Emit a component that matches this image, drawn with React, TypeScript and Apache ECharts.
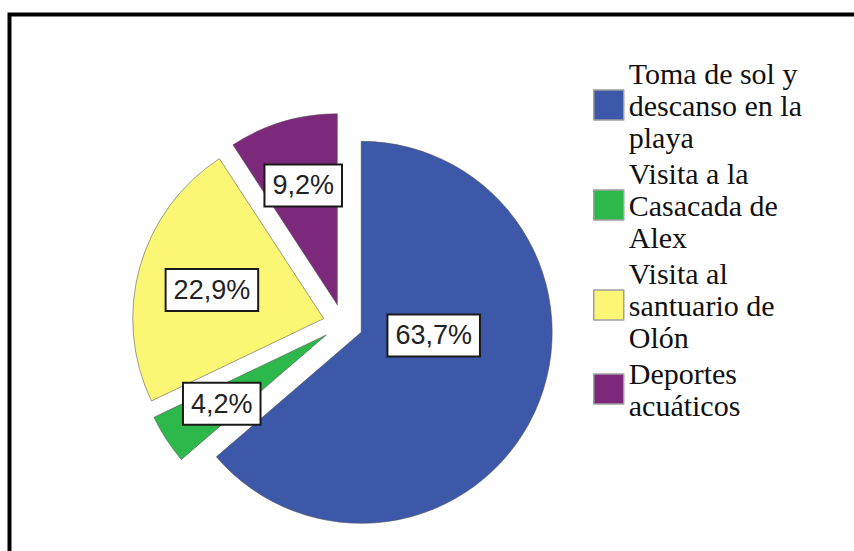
import React, { useEffect, useRef } from "react";
import * as echarts from "echarts";

const categories = [
  "Toma de sol y\ndescanso en la\nplaya",
  "Visita a la\nCasacada de\nAlex",
  "Visita al\nsantuario de\nOlón",
  "Deportes\nacuáticos",
];
const percentages = [63.7, 4.2, 22.9, 9.2];
const colors = ["#3e58a9", "#2db84b", "#fbf775", "#7c297c"];
// small nudges of each percentage label from the library's "inside" spot
const labelNudgeX = [-17, -22, -17, -6];
const labelNudgeY = [-38, 15, -2, -25];

export default function App() {
  const ref = useRef<HTMLDivElement>(null);
  useEffect(() => {
    if (!ref.current) return;
    const chart = echarts.init(ref.current, undefined, { renderer: "svg" });
    chart.setOption({
      animation: false,
      backgroundColor: "#ffffff",
      graphic: [
        {
          type: "polyline",
          shape: { points: [[9.5, 551], [9.5, 14.5], [854, 14.5]] },
          style: { stroke: "#000", lineWidth: 4, fill: null },
          silent: true,
        },
      ],
      legend: {
        orient: "vertical",
        left: 588,
        top: 52,
        itemWidth: 30,
        itemHeight: 30,
        itemGap: 4,
        icon: "rect",
        selectedMode: false,
        data: categories,
        itemStyle: { borderColor: "#a0a0a0", borderWidth: 1.5 },
        textStyle: {
          fontFamily: "Liberation Serif",
          fontSize: 30,
          lineHeight: 32,
          color: "#111",
        },
      },
      series: [
        {
          type: "pie",
          center: [343, 324],
          radius: 191,
          startAngle: 90,
          clockwise: true,
          selectedMode: "multiple",
          selectedOffset: 20,
          emphasis: { disabled: true },
          itemStyle: { borderColor: "rgba(80,80,80,0.55)", borderWidth: 1 },
          label: {
            show: true,
            position: "inside",
            formatter: (p: any) => p.value.toFixed(1).replace(".", ",") + "%",
            fontFamily: "Liberation Sans",
            fontSize: 27,
            lineHeight: 30,
            color: "#222",
            backgroundColor: "#ffffff",
            borderColor: "#1a1a1a",
            borderWidth: 2,
            padding: [5, 7, 5, 7],
          },
          labelLine: { show: false },
          labelLayout: (params: any) => ({
            dx: labelNudgeX[params.dataIndex],
            dy: labelNudgeY[params.dataIndex],
          }),
          data: categories.map((name, i) => ({
            name,
            value: percentages[i],
            selected: true,
            itemStyle: { color: colors[i] },
          })),
        },
      ],
    });
    return () => chart.dispose();
  }, []);
  return (
    <div
      ref={ref}
      style={{ position: "fixed", left: 0, top: 0, width: 854, height: 551 }}
    />
  );
}
